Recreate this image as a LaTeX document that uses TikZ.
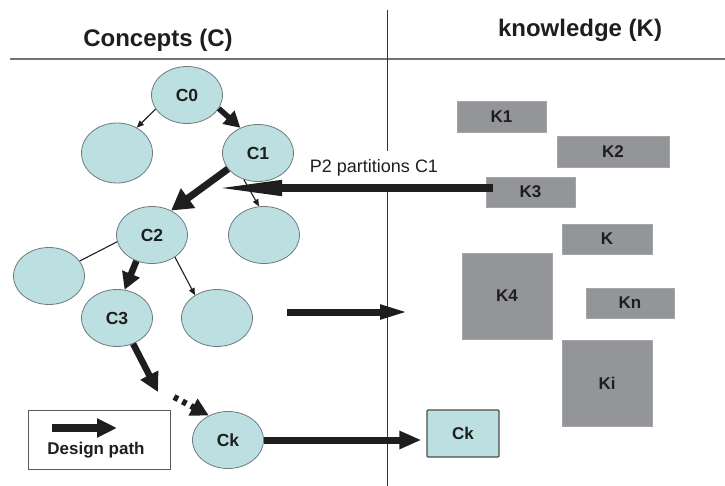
\documentclass[tikz,border=0pt]{standalone}
\usepackage{fontspec}
\setmainfont{Liberation Sans}
\usetikzlibrary{arrows.meta,shapes.geometric,calc}
\definecolor{teal}{HTML}{BCDFE2}
\definecolor{ellborder}{HTML}{707A7C}
\definecolor{kgray}{HTML}{939598}
\definecolor{ink}{HTML}{1E1E1E}
\begin{document}
\begin{tikzpicture}[x=1pt,y=-1pt,
  concept/.style={ellipse, draw=ellborder, line width=0.8pt, fill=teal, minimum width=71pt, minimum height=57pt, inner sep=0pt, font=\fontsize{17.5}{19}\selectfont\bfseries, text=ink},
  kbox/.style={rectangle, draw=kgray!85!white, line width=0.6pt, fill=kgray, inner sep=0pt, font=\fontsize{17}{19}\selectfont\bfseries, text=ink},
  title/.style={font=\fontsize{24}{27}\selectfont\bfseries, text=ink, anchor=base},
  thin/.style={draw=ink, line width=1.1pt, -{Triangle[length=7pt,width=6pt]}},
  bigarrow/.style={draw=ink, line width=6.5pt, -{Triangle[length=19pt,width=19pt]}},
]
\useasboundingbox (0,0) rectangle (725,486);

% dividers
\draw[draw=black!55, line width=1.6pt] (10,59) -- (725,59);
\draw[draw=black!80, line width=0.8pt] (387,10) -- (387,486);

% titles
\node[title] (tc) at (158,47) {Concepts (C)};
\node[title] (tk) at (580,37) {knowledge (K)};

% concept nodes
\node[concept] (C0) at (187,95) {C0};
\node[concept, minimum height=60pt] (L0) at (117,153) {};
\node[concept] (C1) at (258,153) {C1};
\node[concept] (R1) at (264,235) {};
\node[concept] (C2) at (152,235) {C2};
\node[concept] (L2) at (49,276) {};
\node[concept] (C3) at (117,318) {C3};
\node[concept] (R2) at (217,318) {};
\node[concept] (Ck) at (228,440) {Ck};

% knowledge boxes
\node[kbox, minimum width=89pt, minimum height=31pt] (K1) at (501.5,116.5) {K1};
\node[kbox, minimum width=112pt, minimum height=31pt] (K2) at (613,151.5) {K2};
\node[kbox, minimum width=89pt, minimum height=30pt] (K3) at (530.5,192) {K3};
\node[kbox, minimum width=90pt, minimum height=30pt] (K) at (607,239) {K};
\node[kbox, minimum width=90pt, minimum height=86pt] (K4) at (507,296) {K4};
\node[kbox, minimum width=88pt, minimum height=30pt] (Kn) at (630,303) {Kn};
\node[kbox, minimum width=90pt, minimum height=86pt] (Ki) at (607,383) {Ki};
\node[rectangle, draw=black!70, line width=1.2pt, rounded corners=1pt, fill=teal, minimum width=72pt, minimum height=47pt, inner sep=0pt, font=\fontsize{17}{19}\selectfont\bfseries, text=ink] (CkB) at (463,433.5) {Ck};

% thin connectors
\draw[thin] (C0.204) -- (L0.52);
\draw[thin] (C1.242) -- (R1.100);
\draw[draw=ink, line width=1.1pt] (C2.191) -- (L2.26);
\draw[thin] (C2.316) -- (R2.134);

% design path arrows
\draw[draw=ink, line width=5.5pt, -{Triangle[length=16pt,width=17pt]}] (C0.337) -- (C1.125);
\draw[draw=ink, line width=7pt, -{Triangle[length=21pt,width=23pt]}] (C1.208) -- (C2.52);
\draw[draw=ink, line width=6.5pt, -{Triangle[length=17pt,width=18pt]}] (C2.239) -- (C3.75);
\coordinate (d1) at (158,392);
\coordinate (d2) at (174,397);
\draw[bigarrow] (C3.302) -- (d1);
\draw[draw=ink, line width=6pt, dash pattern=on 4.5pt off 5pt, -{Triangle[length=18pt,width=18pt]}] (d2) -- (Ck.128);

% P2 partitions C1
\coordinate (pend) at (212,188);
\node[fill=white, inner xsep=1pt, inner ysep=0pt, minimum height=34pt, font=\fontsize{18}{20}\selectfont, text=ink] (p2) at (374,168) {P2 partitions C1};
\draw[draw=ink, line width=7.5pt, -{Triangle[length=70pt,width=14pt]}] ([xshift=7pt,yshift=4pt]K3.west) -- (pend);

% middle arrow
\coordinate (m1) at (287,312);
\coordinate (m2) at (410,312);
\draw[draw=ink, line width=7pt, -{Triangle[length=30pt,width=13pt]}] (m1) -- (m2);

% Ck to box
\draw[draw=ink, line width=7pt, -{Triangle[length=22pt,width=17pt]}, shorten >=5pt] (Ck.east) -- (Ck.east -| CkB.west);

% legend
\node[rectangle, draw=black!65, line width=1pt, minimum width=142pt, minimum height=59pt, inner sep=0pt] (leg) at (99,439.5) {};
\coordinate (la) at (52,428);
\coordinate (lb) at (117,428);
\draw[draw=ink, line width=8pt, -{Triangle[length=20pt,width=18pt]}] (la) -- (lb);
\node[font=\fontsize{17}{19}\selectfont\bfseries, text=ink] (legt) at (96,450) {Design path};
\end{tikzpicture}
\end{document}
